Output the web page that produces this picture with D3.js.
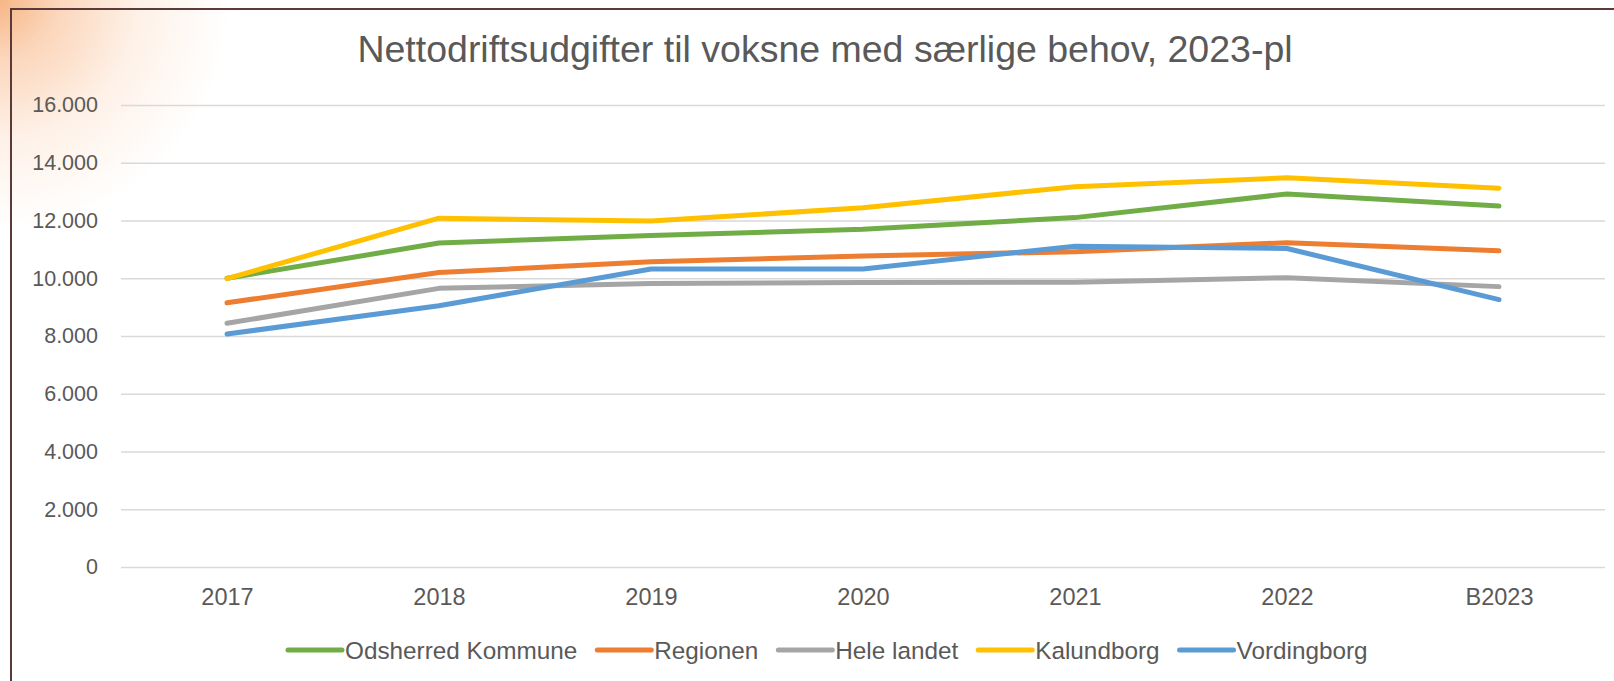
<!DOCTYPE html>
<html>
<head>
<meta charset="utf-8">
<script src="https://cdn.jsdelivr.net/npm/d3@7"></script>
<style>
  html, body { margin: 0; padding: 0; background: #fff; }
  svg { display: block; font-family: "Liberation Sans", Arial, sans-serif; }
</style>
</head>
<body>
<div id="chart"></div>
<script>
const YEARS = ["2017", "2018", "2019", "2020", "2021", "2022", "B2023"]
const Y_TICKS = [0, 2000, 4000, 6000, 8000, 10000, 12000, 14000, 16000]

const SERIES_NAMES = ["Odsherred Kommune", "Regionen", "Hele landet", "Kalundborg", "Vordingborg"]
const SERIES_COLORS = ["#70ad47", "#ed7d31", "#a5a5a5", "#ffc000", "#5b9bd5"]

const odsherred = [10000, 11220, 11480, 11700, 12100, 12920, 12500]
const regionen = [9150, 10200, 10570, 10770, 10920, 11230, 10950]
const heleLandet = [8440, 9650, 9820, 9850, 9860, 10020, 9710]
const kalundborg = [9990, 12080, 11980, 12440, 13170, 13480, 13120]
const vordingborg = [8070, 9050, 10320, 10320, 11110, 11030, 9260]

const SERIES = [odsherred, regionen, heleLandet, kalundborg, vordingborg]

const W = 1614, H = 681
const margin = {top: 105, right: 9, bottom: 114, left: 121}
const innerW = W - margin.left - margin.right
const innerH = H - margin.top - margin.bottom
const TEXT = "#595959"

const svg = d3.select("#chart").append("svg")
    .attr("width", W)
    .attr("height", H)

// slide background glow in the top-left corner
const defs = svg.append("defs")
const grad = defs.append("radialGradient")
    .attr("id", "glow")
    .attr("gradientUnits", "userSpaceOnUse")
    .attr("cx", 0).attr("cy", 0).attr("r", 230)
grad.append("stop").attr("offset", "0%").attr("stop-color", "#f7b686")
grad.append("stop").attr("offset", "25%").attr("stop-color", "#fbd6bb")
grad.append("stop").attr("offset", "60%").attr("stop-color", "#fef1e7")
grad.append("stop").attr("offset", "100%").attr("stop-color", "#ffffff")
svg.append("rect").attr("width", W).attr("height", H).attr("fill", "#fff")
svg.append("rect").attr("width", 240).attr("height", 240).attr("fill", "url(#glow)")

// frame
svg.append("path")
    .attr("d", `M11,${H} L11,9 L${W},9`)
    .attr("fill", "none")
    .attr("stroke", "#5d3a3a")
    .attr("stroke-width", 2)

svg.append("text")
    .attr("x", 825)
    .attr("y", 62)
    .attr("text-anchor", "middle")
    .attr("font-size", 37.5)
    .attr("fill", TEXT)
    .text("Nettodriftsudgifter til voksne med særlige behov, 2023-pl")

const g = svg.append("g")
    .attr("transform", "translate(" + margin.left + "," + margin.top + ")")

let x = d3.scalePoint()
    .domain(YEARS)
    .range([0, innerW])
    .padding(0.5)

let y = d3.scaleLinear()
    .domain([0, 16000])
    .range([innerH, 0])

const fmt = d => d3.format(",")(d).replace(/,/g, ".")

// gridlines + y labels
g.append("g")
    .call(d3.axisLeft(y).tickValues(Y_TICKS).tickSize(-innerW).tickPadding(23).tickFormat(fmt))
    .call(a => a.select(".domain").remove())
    .call(a => a.selectAll("line").attr("stroke", "#d9d9d9").attr("stroke-width", 1.5))
    .call(a => a.selectAll("text").attr("fill", TEXT).attr("font-size", 21.5)
        .attr("font-family", "Liberation Sans, Arial, sans-serif"))

// x labels
g.append("g")
    .attr("transform", "translate(0," + innerH + ")")
    .call(d3.axisBottom(x).tickSize(0).tickPadding(21))
    .call(a => a.select(".domain").remove())
    .call(a => a.selectAll("text").attr("fill", TEXT).attr("font-size", 23.5)
        .attr("font-family", "Liberation Sans, Arial, sans-serif"))

const line = d3.line()
    .x((d, i) => x(YEARS[i]))
    .y(d => y(d))

g.selectAll(".series")
    .data(SERIES)
    .enter()
    .append("path")
    .attr("class", "series")
    .attr("d", line)
    .attr("fill", "none")
    .attr("stroke", (d, i) => SERIES_COLORS[i])
    .attr("stroke-width", 5)
    .attr("stroke-linecap", "round")
    .attr("stroke-linejoin", "round")

// legend
const legendY = 650
const legend = svg.append("g")
let lx = 288
SERIES_NAMES.forEach((name, i) => {
    const item = legend.append("g").attr("transform", "translate(" + lx + "," + legendY + ")")
    item.append("line")
        .attr("x1", 0).attr("x2", 54)
        .attr("stroke", SERIES_COLORS[i])
        .attr("stroke-width", 5)
        .attr("stroke-linecap", "round")
    const t = item.append("text")
        .attr("x", 57)
        .attr("dy", "0.35em")
        .attr("font-size", 24.3)
        .attr("fill", TEXT)
        .text(name)
    lx += 57 + t.node().getComputedTextLength() + 20
})
</script>
</body>
</html>
